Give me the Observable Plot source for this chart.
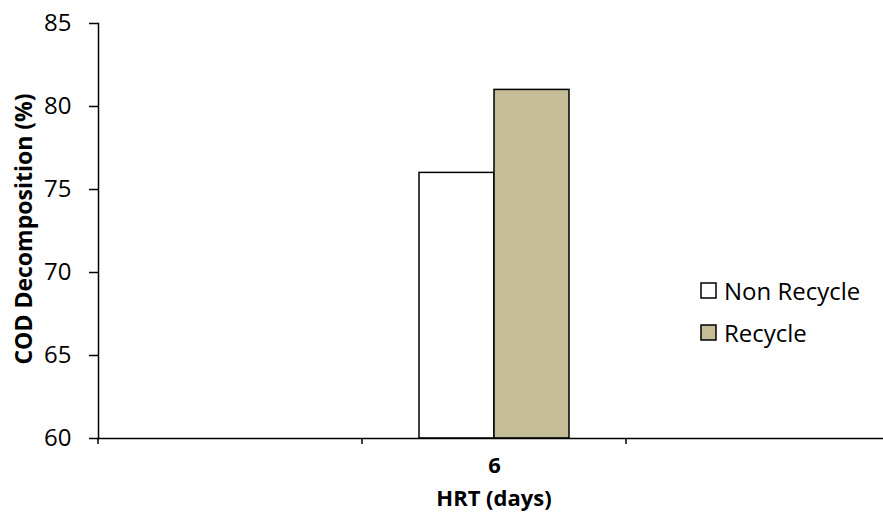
<!DOCTYPE html>
<html><head><meta charset="utf-8">
<script src="https://cdn.jsdelivr.net/npm/d3@7"></script>
<script src="https://cdn.jsdelivr.net/npm/@observablehq/plot@0.6"></script>
<style>
body{margin:0;background:#fff;overflow:hidden;}
#wrap{position:relative;width:883px;height:512px;overflow:hidden;background:#fff;}
#wrap > svg{max-width:none !important;}
#legend{position:absolute;left:701px;top:274px;}
#legend div{font-family:'Open Sans',sans-serif !important;font-size:24px !important;color:#000 !important;}
#legend div[class$="-swatch"]{padding-bottom:9px !important;}
#legend svg{overflow:visible;margin-right:8px !important;}
#legend svg rect{stroke:#000;stroke-width:1.5px;}
</style></head><body><div id="wrap"></div>
<script>
const categories = ["", "6", " "];
const series = ["Non Recycle", "Recycle"];
const hrt = ["6", "6"];
const values = [76, 81];
const yTicks = [60, 65, 70, 75, 80, 85];
const colors = ["#FFFFFF", "#C4BD97"];
const yTitle = "COD Decomposition (%)";
const xTitle = "HRT (days)";

const data = series.map((s, i) => ({hrt: hrt[i], series: s, value: values[i]}));
const categoryRows = categories.map(c => ({hrt: c}));
const font = "'Open Sans', sans-serif";

const boundaryTicks = (index, scales, vals, dim) => {
  const y0 = scales.y(yTicks[0]);
  const g = d3.create("svg:g");
  g.append("line").attr("x1", dim.marginLeft).attr("x2", dim.marginLeft)
    .attr("y1", y0).attr("y2", y0 + 6).attr("stroke", "#000").attr("stroke-width", 1.5);
  return g.node();
};

const chart = Plot.plot({
  width: 890, height: 512, marginLeft: 97, marginRight: 0, marginTop: 23, marginBottom: 74,
  style: {fontFamily: font, fontSize: "24px", color: "#000", background: "white", overflow: "visible", maxWidth: "none"},
  fx: {domain: categories, padding: 0, label: null, axis: null},
  x: {domain: series, paddingInner: 0, paddingOuter: 0.746, axis: null},
  y: {domain: [yTicks[0], yTicks[yTicks.length - 1]], axis: null},
  color: {domain: series, range: colors},
  marks: [
    Plot.barY(data, {fx: "hrt", x: "series", y1: yTicks[0], y2: "value", fill: "series", stroke: "#000", strokeWidth: 1.5}),
    Plot.ruleY(categoryRows, {fx: "hrt", y: yTicks[0], stroke: "#000", strokeWidth: 1.5}),
    Plot.frame({anchor: "left", facet: "super", stroke: "#000", strokeWidth: 1.5}),
    boundaryTicks,
    Plot.axisY({ticks: yTicks, tickSize: 9, tickPadding: 18, label: null, fontSize: 24, stroke: "#000", strokeWidth: 1.5}),
    Plot.axisFx({anchor: "bottom", tickSize: 0, tickPadding: 19, tickFormat: d => d.trim(), label: null, fontWeight: "bold", fontSize: 22})
  ]
});
chart.style.maxWidth = "none";

const svg = d3.select(chart);
svg.append("text").attr("transform", "translate(32,229) rotate(-90)")
  .attr("text-anchor", "middle").attr("font-weight", "bold").attr("font-size", 23)
  .attr("fill", "#000").text(yTitle);
svg.append("text").attr("x", 494).attr("y", 506)
  .attr("text-anchor", "middle").attr("font-weight", "bold").attr("font-size", 22)
  .attr("fill", "#000").text(xTitle);

const wrap = document.getElementById("wrap");
wrap.appendChild(chart);
const leg = Plot.legend({color: {domain: series, range: colors}, swatchSize: 15, columns: 1});
const ld = document.createElement("div");
ld.id = "legend";
ld.appendChild(leg);
wrap.appendChild(ld);
</script></body></html>
